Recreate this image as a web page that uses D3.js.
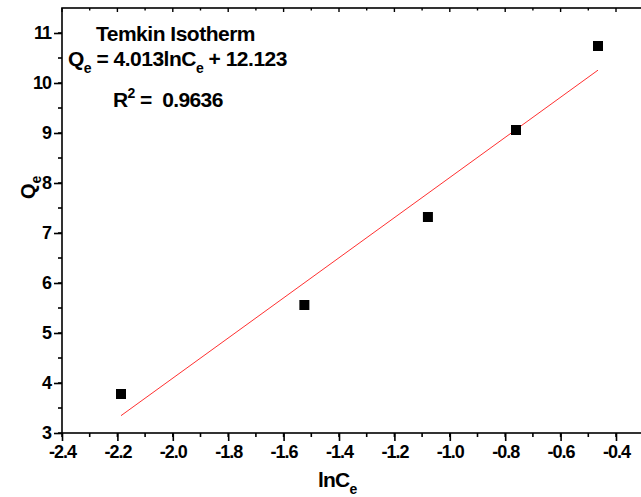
<!DOCTYPE html>
<html>
<head>
<meta charset="utf-8">
<script src="https://cdn.jsdelivr.net/npm/d3@7"></script>
<style>
  body { margin: 0; background: #fff; }
  svg { display: block; font-family: "Liberation Sans", Arial, sans-serif; font-weight: bold; }
</style>
</head>
<body>
<div id="chart"></div>
<script>
// data
const lnCe = [-2.187, -1.525, -1.079, -0.761, -0.465];
const qe = [3.78, 5.56, 7.32, 9.06, 10.74];
const slope = 4.013;
const intercept = 12.123;
const xTickValues = [-2.4, -2.2, -2.0, -1.8, -1.6, -1.4, -1.2, -1.0, -0.8, -0.6, -0.4];
const yTickValues = [3, 4, 5, 6, 7, 8, 9, 10, 11];

const width = 641, height = 497;
const svg = d3.select("#chart").append("svg")
  .attr("width", width)
  .attr("height", height);

const x = d3.scaleLinear().domain([-2.4, -0.3]).range([62, 643.7]);
const y = d3.scaleLinear().domain([3, 11.5]).range([433, 8]);

const xMinor = d3.range(-2.4, -0.3, 0.1).map(v => +v.toFixed(1));
const yMinor = d3.range(3, 11.5, 0.5);

const tickFont = g => g.selectAll("text")
  .attr("font-size", 18).attr("font-family", "Liberation Sans, Arial, sans-serif")
  .attr("font-weight", "bold").attr("letter-spacing", -1);

// frame
svg.append("rect")
  .attr("x", x.range()[0])
  .attr("y", y.range()[1])
  .attr("width", x.range()[1] - x.range()[0])
  .attr("height", y.range()[0] - y.range()[1])
  .attr("fill", "none")
  .attr("stroke", "#000")
  .attr("stroke-width", 1.6);

// bottom axis
const bottom = svg.append("g").attr("transform", `translate(0,${y(3)})`);
bottom.selectAll("line.minor").data(xMinor).join("line")
  .attr("x1", d => x(d)).attr("x2", d => x(d))
  .attr("y1", 0).attr("y2", 4)
  .attr("stroke", "#000").attr("stroke-width", 1.5);
bottom.call(d3.axisBottom(x).tickValues(xTickValues).tickSize(8).tickPadding(4)
    .tickFormat(d => d3.format(".1f")(d).replace("−", "-")))
  .call(g => g.select(".domain").remove())
  .call(g => g.selectAll("line").attr("stroke-width", 1.6))
  .call(tickFont);

// top ticks (inward)
svg.append("g").selectAll("line").data(xMinor).join("line")
  .attr("x1", d => x(d)).attr("x2", d => x(d))
  .attr("y1", y(11.5)).attr("y2", d => y(11.5) + (xTickValues.includes(d) ? 4 : 2.5))
  .attr("stroke", "#000").attr("stroke-width", 1.4);

// left axis
const left = svg.append("g").attr("transform", `translate(${x(-2.4)},0)`);
left.selectAll("line.minor").data(yMinor).join("line")
  .attr("x1", 0).attr("x2", -4)
  .attr("y1", d => y(d)).attr("y2", d => y(d))
  .attr("stroke", "#000").attr("stroke-width", 1.5);
left.call(d3.axisLeft(y).tickValues(yTickValues).tickSize(8).tickPadding(3))
  .call(g => g.select(".domain").remove())
  .call(g => g.selectAll("line").attr("stroke-width", 1.6))
  .call(tickFont);

// axis titles
const xTitle = svg.append("text")
  .attr("x", 318).attr("y", 487)
  .attr("font-size", 21).attr("letter-spacing", -0.8);
xTitle.append("tspan").text("lnC");
xTitle.append("tspan").attr("dy", 7).attr("font-size", 14).text("e");

const yTitle = svg.append("text")
  .attr("transform", "translate(35,199) rotate(-90)")
  .attr("font-size", 20);
yTitle.append("tspan").text("Q");
yTitle.append("tspan").attr("dy", 6).attr("font-size", 14).text("e");

// fitted line
const xs = d3.extent(lnCe);
svg.append("line")
  .attr("x1", x(xs[0])).attr("y1", y(slope * xs[0] + intercept))
  .attr("x2", x(xs[1])).attr("y2", y(slope * xs[1] + intercept))
  .attr("stroke", "#ff3030").attr("stroke-width", 1);

// points
svg.append("g").selectAll("rect").data(lnCe).join("rect")
  .attr("x", (d, i) => x(d) - 5)
  .attr("y", (d, i) => y(qe[i]) - 5)
  .attr("width", 10).attr("height", 10)
  .attr("fill", "#000");

// annotation
svg.append("text").attr("x", 96).attr("y", 41)
  .attr("font-size", 21).attr("letter-spacing", -0.5)
  .text("Temkin Isotherm");

const eq = svg.append("text").attr("x", 68).attr("y", 66)
  .attr("font-size", 21).attr("letter-spacing", -0.5);
eq.append("tspan").text("Q");
eq.append("tspan").attr("dy", 7).attr("font-size", 14).text("e");
eq.append("tspan").attr("dy", -7).text(" = " + slope.toFixed(3) + "lnC");
eq.append("tspan").attr("dy", 7).attr("font-size", 14).text("e");
eq.append("tspan").attr("dy", -7).text(" + " + intercept.toFixed(3));

const r2 = svg.append("text").attr("x", 113).attr("y", 107)
  .attr("font-size", 21).attr("letter-spacing", -0.6)
  .style("white-space", "pre");
r2.append("tspan").text("R");
r2.append("tspan").attr("dy", -9).attr("font-size", 14).text("2");
r2.append("tspan").attr("dy", 9).text(" =  0.9636");
</script>
</body>
</html>
